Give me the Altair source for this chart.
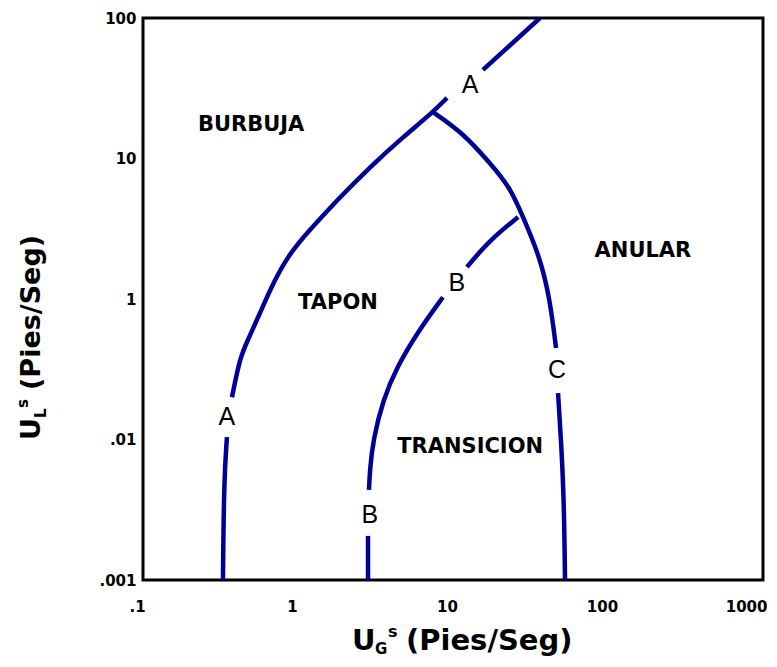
import altair as alt
import pandas as pd
import math

# ---- data ----
# Curve A (left boundary, broken at the "A" labels)
A1_x = [0.328, 0.333, 0.348]
A1_y = [0.01, 0.0515, 0.104]
A2_x = [0.375, 0.423, 0.475, 0.569, 0.690, 0.887, 1.19, 1.79, 2.91, 4.76, 7.43, 9.15]
A2_y = [0.200, 0.386, 0.511, 0.794, 1.30, 2.13, 3.10, 5.07, 8.70, 14.2, 21.4, 27.0]
A3_x = [15.6, 36.4]
A3_y = [42.7, 100.0]
# Curve C (right boundary)
C1_x = [7.43, 11.6, 17.3, 23.3, 28.3, 36.4, 42.3, 46.2]
C1_y = [21.4, 15.2, 9.29, 6.27, 3.83, 1.99, 0.984, 0.448]
C2_x = [47.6, 49.8, 52.0, 52.8]
C2_y = [0.214, 0.099, 0.0371, 0.01]
# Curve B (middle boundary)
B1_x = [26.3, 17.3, 12.3]
B1_y = [3.83, 2.63, 1.69]
B2_x = [8.61, 5.86, 4.35, 3.53, 3.05, 2.91, 2.87]
B2_y = [1.03, 0.573, 0.328, 0.191, 0.099, 0.0607, 0.0438]
B3_x = [2.83, 2.83]
B3_y = [0.0206, 0.01]

segments = {
    "A1": (A1_x, A1_y), "A2": (A2_x, A2_y), "A3": (A3_x, A3_y),
    "C1": (C1_x, C1_y), "C2": (C2_x, C2_y),
    "B1": (B1_x, B1_y), "B2": (B2_x, B2_y), "B3": (B3_x, B3_y),
}

# curve letter labels
letter_text = ["A", "A", "B", "B", "C"]
letter_x = [12.9, 0.348, 10.6, 2.91, 46.9]
letter_y = [33.3, 0.145, 1.30, 0.0290, 0.313]

# region labels
region_text = ["BURBUJA", "TAPON", "TRANSICION", "ANULAR"]
region_x = [0.498, 1.81, 12.9, 168.0]
region_y = [17.3, 0.938, 0.0885, 2.20]

# axis ticks
x_ticks = [0.1, 1, 10, 100, 1000]
x_tick_labels = [".1", "1", "10", "100", "1000"]
y_ticks = [0.01, 0.1, 1, 10, 100]
y_tick_labels = [".001", ".01", "1", "10", "100"]

# ---- build tables ----
rows = []
for name, (xs, ys) in segments.items():
    for i, (xv, yv) in enumerate(zip(xs, ys)):
        rows.append({"seg": name, "i": i, "x": xv, "y": yv})
lines_df = pd.DataFrame(rows)
letters_df = pd.DataFrame({"t": letter_text, "x": letter_x, "y": letter_y})
regions_df = pd.DataFrame({"t": region_text, "x": region_x, "y": region_y})


def label_expr(vals, labs):
    expr = "''"
    for v, l in zip(vals, labs):
        expr = f"abs(log(datum.value)/log(10) - ({math.log10(v)})) < 0.01 ? '{l}' : " + expr
    return expr


xscale = alt.Scale(type="log", domain=[0.1, 1000], nice=False)
yscale = alt.Scale(type="log", domain=[0.01, 100], nice=False)

BOLD = "DejaVu Sans"
BLUE = "#000099"

xaxis = alt.Axis(values=x_ticks, labelExpr=label_expr(x_ticks, x_tick_labels),
                 title=None, grid=False, ticks=False, domain=False,
                 labelFont=BOLD, labelFontWeight="bold", labelFontSize=15,
                 labelColor="black", labelPadding=19, labelFlush=False,
                 labelAlign={"condition": {"test": "datum.value >= 999", "value": "right"},
                             "value": "center"},
                 labelOffset={"condition": {"test": "datum.value >= 999", "value": 4},
                              "value": -6})
yaxis = alt.Axis(values=y_ticks, labelExpr=label_expr(y_ticks, y_tick_labels),
                 title=None, grid=False, ticks=False, domain=False,
                 labelFont=BOLD, labelFontWeight="bold", labelFontSize=15,
                 labelColor="black", labelPadding=7, labelFlush=False)

lines = alt.Chart(lines_df).mark_line(
    color=BLUE, strokeWidth=4.5, interpolate="basis", clip=True
).encode(
    x=alt.X("x:Q", scale=xscale, axis=xaxis),
    y=alt.Y("y:Q", scale=yscale, axis=yaxis),
    detail="seg:N",
    order="i:Q",
)

letters = alt.Chart(letters_df).mark_text(
    font="Liberation Sans", fontSize=25, color="black", baseline="middle", align="center"
).encode(x=alt.X("x:Q", scale=xscale), y=alt.Y("y:Q", scale=yscale), text="t:N")

regions = alt.Chart(regions_df).mark_text(
    font=BOLD, fontWeight="bold", fontSize=21, color="black", baseline="middle", align="center"
).encode(x=alt.X("x:Q", scale=xscale), y=alt.Y("y:Q", scale=yscale), text="t:N")

one = alt.Data(values=[{}])


def piece(text, px, py, size, angle=0):
    return alt.Chart(one).mark_text(
        text=text, font=BOLD, fontWeight="bold", fontSize=size, color="black",
        align="left", baseline="alphabetic", angle=angle
    ).encode(x=alt.value(px), y=alt.value(py))


title_layers = [
    # x title
    piece("U", 209, 632, 29),
    piece("G", 232, 636, 15),
    piece("s", 245, 619, 16),
    piece("(Pies/Seg)", 263, 632, 29),
    # y title
    piece("U", -103, 422, 27, 270),
    piece("L", -97, 400, 15, 270),
    piece("s", -115, 390, 15, 270),
    piece("(Pies/Seg)", -103, 372, 27, 270),
]

chart = alt.layer(lines, letters, regions, *title_layers).properties(
    width=620, height=562,
    autosize=alt.AutoSizeParams(type="none"),
    padding={"left": 135, "top": 10, "right": 6, "bottom": 78},
    background="white",
).configure_view(stroke="black", strokeWidth=3)

chart.save("out.html", embed_options={"renderer": "svg", "actions": False})
